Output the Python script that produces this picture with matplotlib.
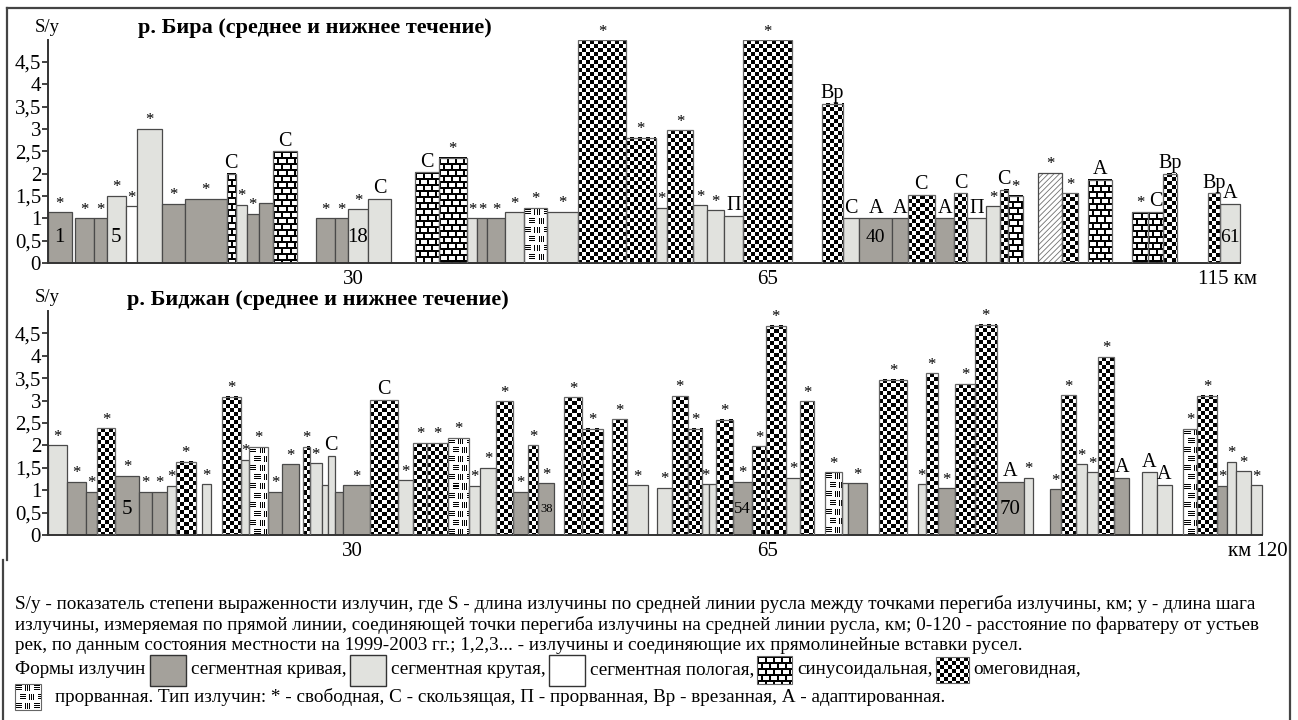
import numpy as np
import matplotlib.pyplot as plt
from matplotlib.colors import ListedColormap
from matplotlib.patches import Rectangle

plt.rcParams['font.family'] = ['Liberation Serif', 'DejaVu Serif']
plt.rcParams['hatch.linewidth'] = 0.6
plt.rcParams['hatch.color'] = '#707070'

# meander forms: D - segment curved, L - segment steep, W - segment flat,
# B - sinusoidal, O - omega, P - cut-off, H - hatched, '-' - straight insert
# р. Бира: segment lengths along the channel, S/y, form, meander type
bira_len = [23.7, 3.3, 19.3, 12.4, 19.3, 11.3, 25, 22.7, 41.7, 9, 11, 12.3, 14.3, 23.4,
            19.3, 19, 12.7, 20.6, 22.4, 24.3, 24, 27.7, 10.6, 10, 17.7, 19, 23.3, 31,
            47.4, 30, 11.6, 26, 14, 17, 19, 48.4, 30, 21.6, 15.7, 33.3, 15.4, 27.3, 19.3,
            13, 18.7, 14, 8.3, 14.4, 15.6, 23.7, 16.3, 9.4, 24, 20.6, 15.4, 15.6, 13.4,
            31.6, 11.7, 20]
bira_val = [1.13, 0, 1.0, 1.0, 1.5, 1.27, 3.0, 1.33, 1.44, 2.0, 1.3, 1.1, 1.35, 2.5,
            0, 1.0, 1.0, 1.2, 1.44, 0, 2.03, 2.35, 1.0, 1.0, 1.0, 1.13, 1.23, 1.15,
            4.98, 2.8, 1.23, 2.97, 1.29, 1.18, 1.06, 4.98, 0, 3.56, 1.0, 1.0, 1.0, 1.52,
            1.0, 1.56, 1.0, 1.27, 1.64, 1.5, 0, 2.01, 1.56, 0, 1.86, 0, 1.14, 1.14, 2.0,
            0, 1.56, 1.32]
bira_form = list("D-DDLWLDDBLDDB-DDLL-BBLDDLPLOOLOLLLO-OLDDODOLLOB-HO-B-BBO-OL")
bira_type = ['*', '', '*', '*', '*', '*', '*', '*', '*', 'С', '*', '*', '', 'С',
             '', '*', '*', '*', 'С', '', 'С', '*', '*', '*', '*', '*', '*', '*',
             '*', '*', '*', '*', '*', '*', 'П', '*', '', 'Вр', 'С', 'А', 'А', 'С',
             'А', 'С', 'П', '*', 'С', '*', '', '*', '*', '', 'А', '', '*', 'С', 'Вр',
             '', 'Вр', 'А']
bira_num = {0: ('1', 15), 4: ('5', 15), 17: ('18', 15), 39: ('40', 14), 59: ('61', 14)}
bira_ticks = [305, 720, 1180]
bira_ticklabels = ['30', '65', '115 км']

# р. Биджан
bidzhan_len = [18.7, 19, 11.6, 17.7, 24.3, 12.4, 15.6, 8.4, 20.3, 6.3, 8.4, 11, 19, 8.6,
               18.4, 14.6, 16.7, 4.3, 6.7, 11.7, 6, 7.3, 8.3, 26.7, 28.3, 15, 13.4, 21.6,
               21, 10.7, 16, 16.7, 15, 10.6, 16, 9.7, 18.3, 20.4, 9, 15.6, 20.7, 9.3,
               14.4, 16, 14.6, 7, 6.7, 17.3, 19, 13.4, 20.3, 14, 14.3, 10.7, 16.7, 6,
               19.6, 11.7, 28.3, 10.4, 8.3, 11.7, 17.3, 20, 21.7, 27.3, 9.3, 16.7, 10.7,
               15, 11, 11.6, 16, 14.7, 12.7, 15, 15, 11.6, 13.4, 20.6, 9.4, 9.3, 14.7, 11]
bidzhan_val = [2.0, 1.18, 0.97, 2.38, 1.32, 0.97, 0.97, 1.09, 1.63, 0, 1.13, 0, 3.09, 1.67,
               1.97, 0.97, 1.58, 0, 1.97, 1.6, 1.11, 1.76, 0.97, 1.11, 3.01, 1.22, 2.05,
               2.05, 2.17, 1.09, 1.5, 2.98, 0.97, 2.0, 1.15, 0, 3.07, 2.37, 0, 2.58, 1.11,
               0, 1.06, 3.1, 2.37, 1.13, 1.13, 2.57, 1.18, 1.98, 4.67, 1.28, 2.98, 0, 1.4,
               1.15, 1.15, 0, 3.47, 0, 1.13, 3.61, 1.04, 3.37, 4.69, 1.19, 1.28, 0, 1.02,
               3.12, 1.58, 1.4, 3.97, 1.28, 0, 1.4, 1.12, 0, 2.37, 3.11, 1.09, 1.63, 1.42,
               1.11]
bidzhan_form = list("LDDODDDLO-L-OLPDD-OLLLDDOLOOPLLODOD-OO-OL-LOOLLODOOLO-PLD-O-LODOODL-DOLLOD-LL-PODLLL")
bidzhan_type = ['*'] * len(bidzhan_len)
for i in (9, 11, 17, 20, 22, 35, 38, 41, 46, 53, 55, 57, 59, 67, 74, 77):
    bidzhan_type[i] = ''
for i, t in {21: 'С', 24: 'С', 65: 'А', 73: 'А', 75: 'А', 76: 'А'}.items():
    bidzhan_type[i] = t
bidzhan_num = {4: ('5', 15), 34: ('38', 9), 48: ('54', 12), 65: ('70', 15)}
bidzhan_ticks = [304, 720, 1210]
bidzhan_ticklabels = ['30', '65', 'км 120']

DARK = '#a4a19b'
LIGHT = '#e1e2de'
EDGE = '#4a4a4a'
FILL = {'D': DARK, 'L': LIGHT, 'W': 'white'}
BW = ListedColormap(['white', 'black'])


def pattern(kind, w, h):
    yy, xx = np.mgrid[0:h, 0:w]
    if kind == 'O':
        return ((np.floor(xx / 4) + np.floor(yy / 4)) % 2).astype(float)
    if kind == 'B':
        row = yy // 6
        horiz = yy % 6 < 2
        vert = (xx + (row % 2) * 4) % 8 < 2
        return (horiz | vert).astype(float)
    # cut-off meander: blocks of short horizontal and vertical strokes
    br = yy // 9
    sx = xx + (br % 2) * 5
    bc = sx // 9
    lx, ly = sx % 9, yy % 9
    inner = (lx >= 1) & (lx <= 6) & (ly >= 1) & (ly <= 6)
    return np.where((br + bc) % 2 == 0, inner & (ly % 2 == 1), inner & (lx % 2 == 1)).astype(float)


def fill_pattern(ax, x0, x1, y0, y1, kind, z=1.5):
    (px0, py0), (px1, py1) = ax.transData.transform([(x0, y0), (x1, y1)])
    w = max(int(round(abs(px1 - px0))), 1)
    h = max(int(round(abs(py1 - py0))), 1)
    ax.imshow(pattern(kind, w, h), cmap=BW, vmin=0, vmax=1, extent=(x0, x1, y0, y1),
              aspect='auto', interpolation='nearest', zorder=z)


def draw_river(ax, lengths, vals, forms, types, nums, ticks, ticklabels):
    lengths = np.asarray(lengths)
    lefts = np.concatenate([[0], np.cumsum(lengths)[:-1]])
    ax.set_xlim(0, 1222)
    ax.set_ylim(0, 5)
    for x, w, v, f, t in zip(lefts, lengths, vals, forms, types):
        if f == '-':
            continue
        if f in FILL:
            ax.bar(x, v, w, align='edge', color=FILL[f], edgecolor=EDGE, lw=0.9, zorder=2)
        elif f == 'H':
            ax.bar(x, v, w, align='edge', color='white', edgecolor='#707070',
                   hatch='//////', lw=0, zorder=2)
            ax.bar(x, v, w, align='edge', fill=False, edgecolor=EDGE, lw=0.9, zorder=3)
        else:
            fill_pattern(ax, x, x + w, 0, v, f)
            ax.bar(x, v, w, align='edge', fill=False, edgecolor='#666666', lw=0.9, zorder=3)
        if t:
            ax.annotate(t, (x + w / 2, v), xytext=(0, 0.5), textcoords='offset points',
                        ha='center', va='bottom', fontsize=12 if t == '*' else 14.5)
    for i, (txt, fs) in nums.items():
        ax.text(lefts[i] + lengths[i] / 2, 0.58, txt, ha='center', va='center',
                fontsize=fs, zorder=4)

    ax.set_facecolor('none')
    for side in ('top', 'right'):
        ax.spines[side].set_visible(False)
    ax.spines['bottom'].set_bounds(0, lengths.sum())
    ax.spines['left'].set_bounds(0, 5)
    for side in ('left', 'bottom'):
        ax.spines[side].set_color('#333333')
        ax.spines[side].set_linewidth(1.4)
    yt = np.arange(0, 5, 0.5)
    ax.set_yticks(yt)
    ax.set_yticklabels([('%g' % v).replace('.', ',') for v in yt])
    ax.tick_params(axis='y', length=4, width=1.3, pad=1, labelsize=15, color='#333333')
    ax.set_xticks(ticks)
    ax.set_xticklabels(ticklabels)
    ax.tick_params(axis='x', length=0, pad=5, labelsize=15)


fig = plt.figure(figsize=(12.98, 7.2), dpi=100)
ax1 = fig.add_axes([48 / 1298, 457 / 720, 1222 / 1298, 223.5 / 720])
ax2 = fig.add_axes([48 / 1298, 185 / 720, 1222 / 1298, 224 / 720])
draw_river(ax1, bira_len, bira_val, bira_form, bira_type, bira_num, bira_ticks, bira_ticklabels)
draw_river(ax2, bidzhan_len, bidzhan_val, bidzhan_form, bidzhan_type, bidzhan_num,
           bidzhan_ticks, bidzhan_ticklabels)

# overlay in pixel units for frame, titles and caption
lax = fig.add_axes([0, 0, 1, 1])
lax.set_xlim(0, 1298)
lax.set_ylim(720, 0)
lax.axis('off')

frame = dict(color='#444444', lw=1.6)
lax.plot([7, 1290], [8, 8], **frame)
lax.plot([1290, 1290], [8, 720], **frame)
lax.plot([7, 7], [8, 560], **frame)
lax.plot([2.5, 2.5], [560, 720], **frame)

lax.text(47, 28, 'S/у', ha='center', va='center', fontsize=13.5)
lax.text(138, 28, 'р. Бира (среднее и нижнее течение)', va='center',
         fontsize=16, fontweight='bold')
lax.text(47, 298, 'S/у', ha='center', va='center', fontsize=13.5)
lax.text(127, 300, 'р. Биджан (среднее и нижнее течение)', va='center',
         fontsize=16, fontweight='bold')

FS = 13.8
caption = [
    'S/y - показатель степени выраженности излучин, где S - длина излучины по средней линии русла между точками перегиба излучины, км; у - длина шага',
    'излучины, измеряемая по прямой линии, соединяющей точки перегиба излучины на средней линии русла, км; 0-120 - расстояние по фарватеру от устьев',
    'рек, по данным состояния местности на 1999-2003 гг.; 1,2,3... - излучины и соединяющие их прямолинейные вставки русел.',
]
for k, line in enumerate(caption):
    lax.text(15, 604 + 21 * k, line, va='center', fontsize=FS)

legend_items = [('D', 'сегментная кривая,'), ('L', 'сегментная крутая,'),
                ('W', 'сегментная пологая,'), ('B', 'синусоидальная,'),
                ('O', 'омеговидная,')]
swatch_size = {'D': (36, 31), 'L': (36, 31), 'W': (36, 31), 'B': (35, 28), 'O': (33, 26),
               'P': (26, 26)}

renderer = fig.canvas.get_renderer()


def swatch(x, yc, kind):
    w, h = swatch_size[kind]
    if kind in FILL:
        lax.add_patch(Rectangle((x, yc - h / 2), w, h, facecolor=FILL[kind],
                                edgecolor='#333333', lw=1))
    else:
        fill_pattern(lax, x, x + w, yc + h / 2, yc - h / 2, kind, z=2)
        lax.add_patch(Rectangle((x, yc - h / 2), w, h, fill=False,
                                edgecolor='#666666', lw=0.8, zorder=3))
    return x + w


row = 670
t = lax.text(15, row, 'Формы излучин', va='center', fontsize=FS)
x = t.get_window_extent(renderer).x1 + 5
for kind, label in legend_items:
    x = swatch(x, row, kind) + 5
    t = lax.text(x, row, label, va='center', fontsize=FS)
    x = t.get_window_extent(renderer).x1 + 3

row = 697
swatch(15, row, 'P')
lax.text(55, row, 'прорванная. Тип излучин: * - свободная, С - скользящая, П - прорванная, '
         'Вр - врезанная, А - адаптированная.', va='center', fontsize=FS)

fig.savefig('out.png', dpi=100)
